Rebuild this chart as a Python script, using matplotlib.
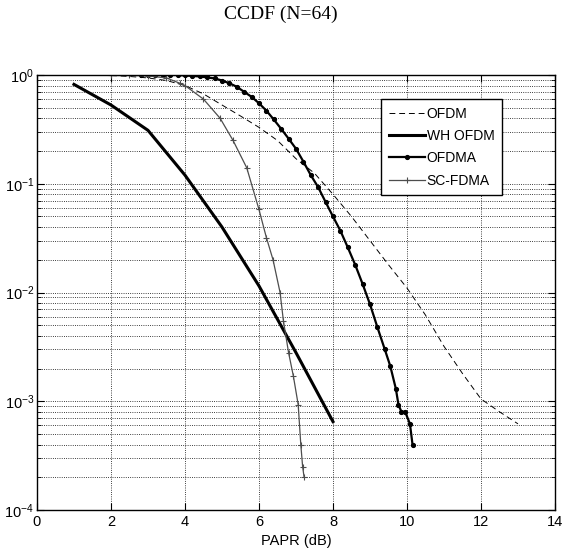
import matplotlib
matplotlib.use("Agg")
import matplotlib.pyplot as plt
from matplotlib.ticker import LogLocator, NullFormatter

# values
ofdm_x = [2.0, 2.5, 3.0, 3.5, 4.0, 4.5, 5.0, 5.5, 6.0, 6.5, 7.0, 7.5, 8.0,
          8.5, 9.0, 9.5, 10.0, 10.5, 11.0, 11.5, 12.0, 12.5, 13.0]
ofdm_y = [0.99, 0.97, 0.94, 0.89, 0.80, 0.67, 0.53, 0.42, 0.33, 0.25, 0.17,
          0.125, 0.08, 0.05, 0.03, 0.018, 0.011, 0.0062, 0.0032, 0.0018,
          0.00105, 0.0008, 0.00062]

wh_x = [1, 2, 3, 4, 5, 6, 7, 8]
wh_y = [0.82, 0.53, 0.31, 0.12, 0.040, 0.0115, 0.0028, 0.00065]

ofdma_x = [2.8, 3.0, 3.2, 3.4, 3.6, 3.8, 4.0, 4.2, 4.4, 4.6, 4.8, 5.0, 5.2,
           5.4, 5.6, 5.8, 6.0, 6.2, 6.4, 6.6, 6.8, 7.0, 7.2, 7.4, 7.6, 7.8,
           8.0, 8.2, 8.4, 8.6, 8.8, 9.0, 9.2, 9.4, 9.55, 9.7, 9.77, 9.85,
           9.95, 10.08, 10.15]
ofdma_y = [1.0, 1.0, 1.0, 1.0, 1.0, 1.0, 0.99, 0.98, 0.97, 0.95, 0.93, 0.89,
           0.84, 0.78, 0.70, 0.63, 0.55, 0.47, 0.39, 0.32, 0.26, 0.21, 0.16,
           0.12, 0.093, 0.068, 0.05, 0.037, 0.026, 0.018, 0.012, 0.0078,
           0.0048, 0.003, 0.0021, 0.0013, 0.00093, 0.0008, 0.0008, 0.00062,
           0.0004]

sc_x = [2.0, 2.5, 3.0, 3.5, 3.86, 4.0, 4.5, 4.95, 5.3, 5.67, 6.0, 6.2,
        6.38, 6.57, 6.66, 6.8, 6.93, 7.06, 7.13, 7.18, 7.22]
sc_y = [0.99, 0.99, 0.98, 0.94, 0.84, 0.80, 0.60, 0.40, 0.25, 0.14, 0.058,
        0.032, 0.02, 0.01, 0.0055, 0.0028, 0.0017, 0.00093, 0.0004, 0.00025,
        0.0002]

labels = ["OFDM", "WH OFDM", "OFDMA", "SC-FDMA"]
xticks = [0, 2, 4, 6, 8, 10, 12, 14]

plt.rcParams["font.family"] = ["Liberation Sans", "DejaVu Sans"]
plt.rcParams["mathtext.fontset"] = "custom"
plt.rcParams["mathtext.rm"] = "Liberation Sans"
plt.rcParams["mathtext.it"] = "Liberation Sans"

fig = plt.figure(figsize=(5.62, 5.54), dpi=100)
ax = fig.add_axes([0.0658, 0.0794, 0.9217, 0.7852])

ax.semilogy(ofdm_x, ofdm_y, "--", color="black", lw=0.7, label=labels[0],
            dashes=(6, 4))
ax.semilogy(wh_x, wh_y, "-", color="black", lw=2.2, label=labels[1])
ax.semilogy(ofdma_x, ofdma_y, ".-", color="black", lw=1.6, ms=5.5,
            label=labels[2])
ax.semilogy(sc_x, sc_y, "+-", color="0.3", lw=0.9, ms=4, mew=0.8,
            label=labels[3])

ax.set_xlim(0, 14)
ax.set_ylim(1e-4, 1)
ax.set_xticks(xticks)
ax.yaxis.set_major_locator(LogLocator(base=10, numticks=10))
ax.yaxis.set_minor_locator(LogLocator(base=10, subs=range(2, 10), numticks=50))
ax.yaxis.set_minor_formatter(NullFormatter())

ax.grid(True, which="major", linestyle=":", color="black", lw=0.6)
ax.grid(True, which="minor", axis="y", linestyle=":", color="black", lw=0.6)

ax.tick_params(which="both", direction="in", top=True, right=True,
               labelsize=10.5)
ax.tick_params(axis="y", pad=2)
ax.tick_params(which="major", length=5)
ax.tick_params(which="minor", length=3)
for s in ax.spines.values():
    s.set_linewidth(1.0)

ax.set_xlabel("PAPR (dB)", fontsize=10.5, labelpad=4)

leg = ax.legend(loc="upper right", bbox_to_anchor=(0.898, 0.945),
                fancybox=False, framealpha=1, edgecolor="black",
                fontsize=10, handlelength=2.6, handletextpad=0.15,
                labelspacing=0.6, borderpad=0.55, borderaxespad=0)
leg.get_frame().set_linewidth(1.0)

fig.text(0.5, 1 - 14 / 554, "CCDF (N=64)", ha="center", va="center",
         fontsize=14, family="Liberation Serif")

fig.savefig("out.png", dpi=100)
